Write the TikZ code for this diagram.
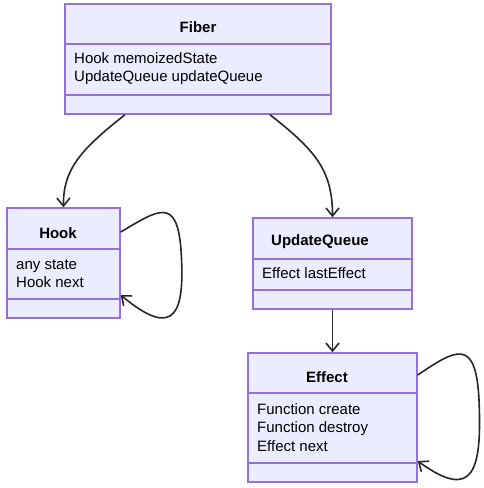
\documentclass[tikz,border=0pt]{standalone}
\usepackage{fontspec}
\setmainfont{Liberation Sans}
\usetikzlibrary{arrows.meta}
\definecolor{classfill}{HTML}{ECECFF}
\definecolor{classstroke}{HTML}{9370DB}
\tikzset{
  classbox/.style={draw=classstroke, fill=classfill, line width=1.5pt, inner sep=0pt},
  sepline/.style={draw=classstroke, line width=1.5pt},
  classtitle/.style={font=\fontsize{15}{18}\selectfont\bfseries},
  attrs/.style={anchor=west, align=left, inner sep=0pt, font=\fontsize{15}{18.5}\selectfont},
  link/.style={-{Straight Barb[length=8pt,width=13pt]}, line width=1.6pt, draw=black!85}
}
\begin{document}
\begin{tikzpicture}[x=1pt, y=-1pt]
\useasboundingbox (0,0) rectangle (484,488);
% \node at (198,0) {classDiagram};
\node[classbox, minimum width=266pt, minimum height=110pt] (Fiber) at (198,59) {};
\draw[sepline] (65,44) -- (331,44);
\draw[sepline] (65,95) -- (331,95);
\node[classtitle] (Fiber title) at (198,27) {Fiber};
\node[attrs] (Fiber attrs) at (74,68.5) {Hook memoizedState\\UpdateQueue updateQueue};

\node[classbox, minimum width=113pt, minimum height=110pt] (Hook) at (63.5,263) {};
\draw[sepline] (7,249) -- (120,249);
\draw[sepline] (7,299) -- (120,299);
\node[classtitle] (Hook title) at (58,233) {Hook};
\node[attrs] (Hook attrs) at (16,273.5) {any state\\Hook next};

\node[classbox, minimum width=159pt, minimum height=91pt] (UpdateQueue) at (332.5,263.5) {};
\draw[sepline] (253,259) -- (412,259);
\draw[sepline] (253,290) -- (412,290);
\node[classtitle] (UpdateQueue title) at (320,242) {UpdateQueue};
\node[attrs] (UpdateQueue attrs) at (262,273) {Effect lastEffect};

\node[classbox, minimum width=169pt, minimum height=129pt] (Effect) at (332.5,417.5) {};
\draw[sepline] (248,393) -- (417,393);
\draw[sepline] (248,463) -- (417,463);
\node[classtitle] (Effect title) at (327,377) {Effect};
\node[attrs] (Effect attrs) at (257,427.5) {Function create\\Function destroy\\Effect next};

\draw[link] ([xshift=-73pt]Fiber.south) .. controls (80,150) and (63,170) .. (Hook.north);
\draw[link] ([xshift=72pt]Fiber.south) .. controls (315,150) and (332.5,170) .. (UpdateQueue.north);
\draw[link] (UpdateQueue.south) -- (Effect.north);
\draw[link] ([yshift=31pt]Hook.east) .. controls (158,210) and (177,196) .. (181,250)
  .. controls (185,310) and (177,342) .. ([yshift=-32pt]Hook.east);
\draw[link] ([yshift=42.5pt]Effect.east) .. controls (455,350) and (476,336) .. (479,400)
  .. controls (482,470) and (474,502) .. ([yshift=-43.5pt]Effect.east);
\end{tikzpicture}
\end{document}
